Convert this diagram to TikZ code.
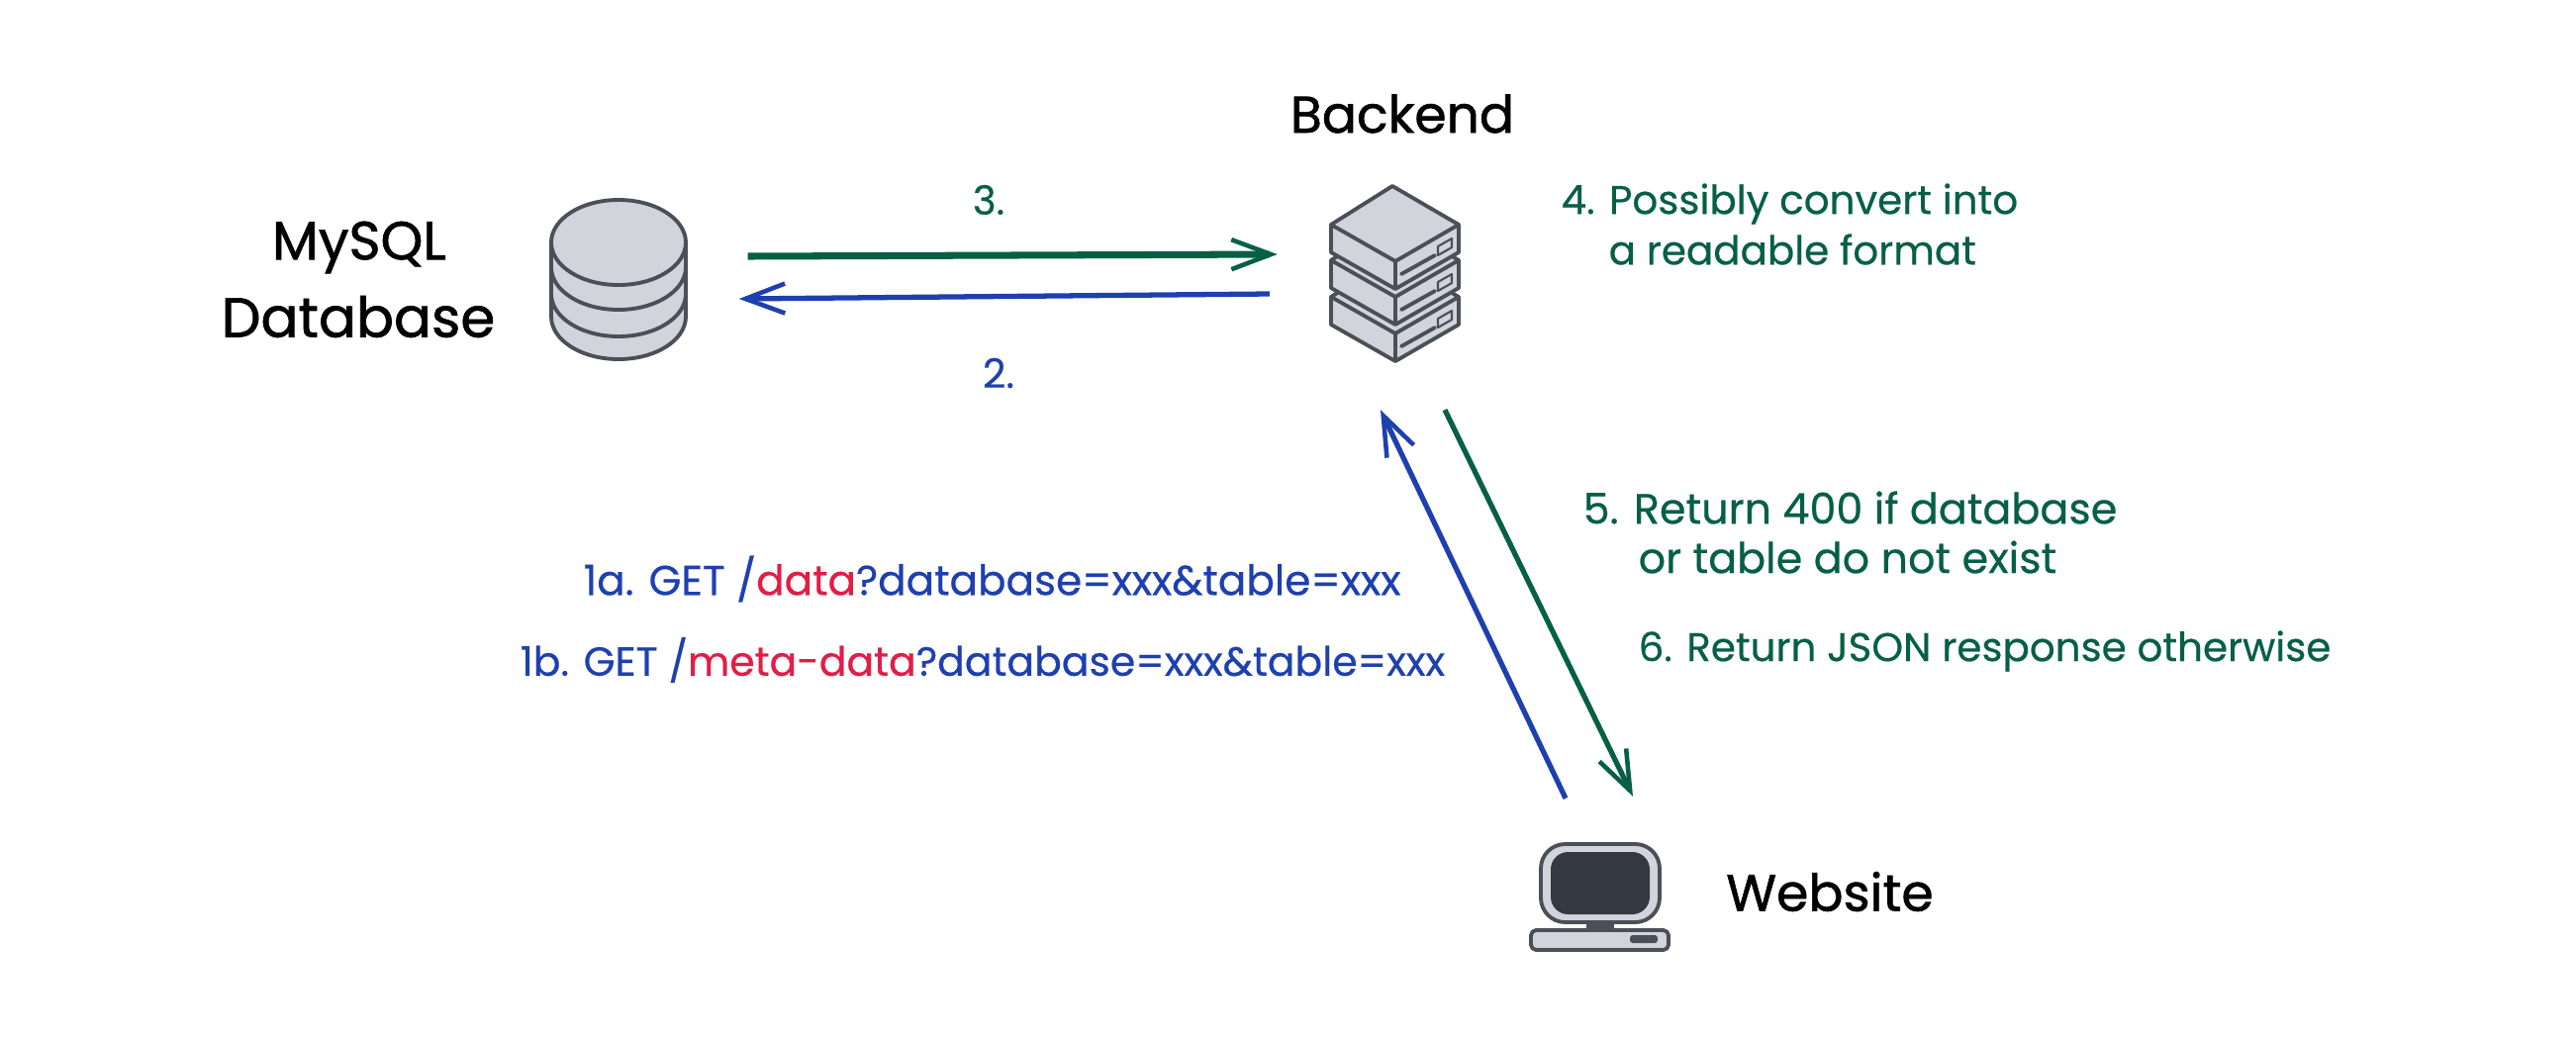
\documentclass[tikz,border=0pt]{standalone}
\usepackage{fontspec}
\setmainfont{Poppins}[FakeBold=0.5]
\newfontfamily\headfont{Poppins}[FakeBold=1.2]
\usetikzlibrary{arrows.meta,positioning,calc}
\definecolor{lineG}{HTML}{065F46}
\definecolor{lineB}{HTML}{1E40AF}
\definecolor{lineR}{HTML}{E11D48}
\definecolor{iconS}{HTML}{4B5058}
\definecolor{iconF}{HTML}{D1D5DB}
\definecolor{iconD}{HTML}{343841}
\begin{document}
\begin{tikzpicture}[x=0.1mm, y=0.1mm,
  icon/.style={draw=iconS, fill=iconF, line width=1.1pt, line join=round},
  hook/.style={draw=none, inner sep=0pt},
  title/.style={font=\headfont\fontsize{15.5}{20}\selectfont, text=black, inner sep=0pt},
  note/.style={font=\fontsize{11.5}{13}\selectfont, text=lineG, inner sep=0pt, anchor=west},
  req/.style={font=\fontsize{11.65}{13}\selectfont, text=lineB, inner sep=0pt, anchor=west},
  green/.style={draw=lineG, line width=1.5pt, -{Straight Barb[length=4mm, width=3mm, line width=1.3pt]}},
  blue/.style={draw=lineB, line width=1.5pt, -{Straight Barb[length=4mm, width=3mm, line width=1.3pt]}}]
\useasboundingbox (0,0) rectangle (2603,-1049);
\node[hook, minimum width=136*0.1mm, minimum height=161*0.1mm] (db) at (625,-283) {};
\node[hook, minimum width=129*0.1mm, minimum height=177*0.1mm] (srv) at (1410,-276) {};
\node[hook, minimum width=139*0.1mm, minimum height=107*0.1mm] (pc) at (1616,-906) {};
\foreach \cy in {320,297,270}
  \draw[icon] (557,-245) -- (557,-\cy) arc[start angle=180, end angle=360, x radius=68, y radius=43] -- (693,-245) -- cycle;
\draw[icon] (625,-245) ellipse [x radius=68, y radius=43];
\foreach \dy in {73,36,0} {
  \draw[icon] (1407,-188-\dy) -- (1474,-227-\dy) -- (1474,-255-\dy) -- (1410,-292-\dy) -- (1345,-255-\dy) -- (1345,-227-\dy) -- cycle;
  \draw[icon, fill=none] (1345,-227-\dy) -- (1410,-264-\dy) -- (1474,-227-\dy);
  \draw[icon, fill=none] (1410,-264-\dy) -- (1410,-292-\dy);
  \draw[icon, fill=none, line cap=round] (1416,-277-\dy) -- (1450,-258-\dy);
  \draw[icon, fill=none, line width=0.6pt] (1453,-249-\dy) -- (1467,-241-\dy) -- (1467,-250-\dy) -- (1453,-258-\dy) -- cycle;
}
\draw[icon, rounded corners=7pt] (1557,-853) rectangle (1677,-932);
\draw[draw=none, fill=iconD, rounded corners=5pt] (1567,-861) rectangle (1667,-924);
\draw[draw=none, fill=iconS] (1603,-932) rectangle (1631,-940);
\draw[icon, rounded corners=1.5pt] (1547,-940) rectangle (1686,-960);
\draw[draw=none, fill=iconS, rounded corners=0.8pt] (1647,-945) rectangle (1675,-953);
\draw[green, line width=2pt] ($(db.east)+(62,24)$) -- ($(srv.west)+(-54,19)$);
\draw[blue] ($(srv.west)+(-62,-21)$) -- ($(db.east)+(53,-19)$);
\draw[blue] ($(pc.north)+(-34,45)$) -- ($(srv.south)+(-15,-49)$);
\draw[green] ($(srv.south)+(50,-49)$) -- ($(pc.north)+(34,47)$);
\node[title] (mysql) at (363,-250) {MySQL};
\node[title, font=\headfont\fontsize{16}{20}\selectfont] (database) at (362,-320) {Database};
\node[title, font=\headfont\fontsize{14.8}{20}\selectfont] (backend) at (1417,-115) {Backend};
\node[title, font=\headfont\fontsize{14.8}{20}\selectfont] (website) at (1849,-901) {Website};
\node[note, anchor=center] (three) at (999,-202) {3.};
\node[req, anchor=center] (two) at (1009,-377) {2.};
\node[note] (convA) at (1577,-206) {4. Possibly convert into};
\node[note] (convB) at (1625,-252) {a readable format};
\node[note, font=\fontsize{12.2}{13}\selectfont] (retA) at (1599,-513) {5. Return 400 if database};
\node[note, font=\fontsize{12.2}{13}\selectfont] (retB) at (1655,-563) {or table do not exist};
\node[note] (retC) at (1655,-658) {6. Return JSON response otherwise};
\node[req, font=\fontsize{12}{13}\selectfont] (getA) at (589,-585) {1a. GET /\textcolor{lineR}{data}?database=xxx\&table=xxx};
\node[req] (getB) at (525,-667) {1b. GET /\textcolor{lineR}{meta-data}?database=xxx\&table=xxx};
\end{tikzpicture}
\end{document}
